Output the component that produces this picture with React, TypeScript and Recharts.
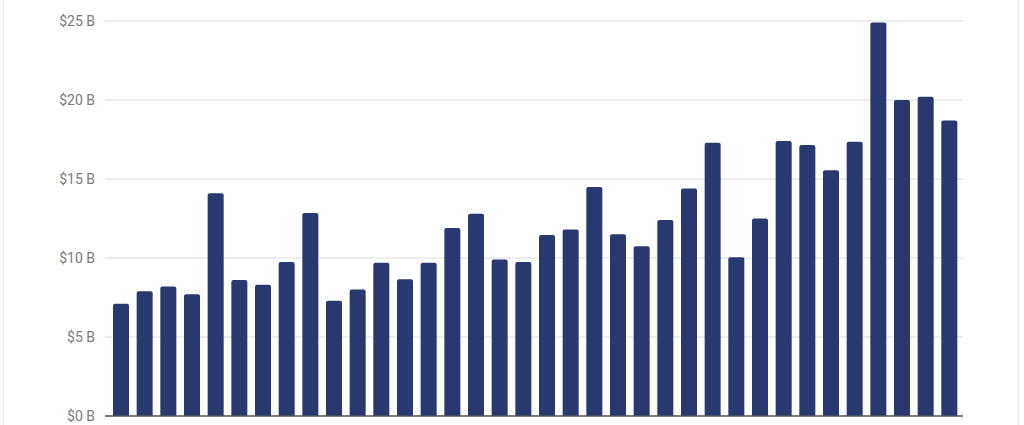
import {
  ComposedChart,
  Bar,
  XAxis,
  YAxis,
  CartesianGrid,
  ReferenceLine,
} from "recharts";

const periods = Array.from({ length: 36 }, (_, i) => `P${i + 1}`);

const amounts = [
  7.1, 7.9, 8.2, 7.7, 14.1, 8.6, 8.3, 9.75, 12.85, 7.3, 8.0, 9.7, 8.65, 9.7,
  11.9, 12.8, 9.9, 9.75, 11.45, 11.8, 14.5, 11.5, 10.75, 12.4, 14.4, 17.3,
  10.05, 12.5, 17.4, 17.15, 15.55, 17.35, 24.9, 20.0, 20.2, 18.7,
];

const yTicks = [0, 5, 10, 15, 20, 25];

const data = periods.map((p, i) => ({ period: p, amount: amounts[i] }));

export default function App() {
  return (
    <div
      style={{
        position: "absolute",
        left: 0,
        top: 0,
        width: 1024,
        height: 425,
        background: "#fff",
        fontFamily: "Roboto, sans-serif",
      }}
    >
      <div
        style={{
          position: "absolute",
          left: 3,
          top: 0,
          width: 1014,
          height: 425,
          borderLeft: "1px solid #ececec",
          borderRight: "1px solid #ececec",
        }}
      />
      <ComposedChart
        width={1024}
        height={425}
        data={data}
        margin={{ top: 21, right: 61, left: 0, bottom: 9 }}
        style={{ position: "absolute", left: 0, top: 0 }}
      >
        <CartesianGrid vertical={false} stroke="#dcdcdc" />
        <XAxis
          dataKey="period"
          tick={false}
          tickLine={false}
          axisLine={false}
          height={0}
          padding={{ left: 4, right: 2 }}
        />
        <YAxis
          domain={[0, 25]}
          ticks={yTicks}
          width={105}
          axisLine={false}
          tickLine={false}
          tickMargin={4}
          tick={{ fill: "#7a7a7a", fontSize: 14 }}
          tickFormatter={(v) => `$${v} B`}
        />
        <Bar
          dataKey="amount"
          fill="#29386f"
          barSize={16}
          radius={[2, 2, 0, 0]}
          isAnimationActive={false}
        />
        <ReferenceLine y={0} stroke="#555" strokeWidth={1.5} />
      </ComposedChart>
    </div>
  );
}
